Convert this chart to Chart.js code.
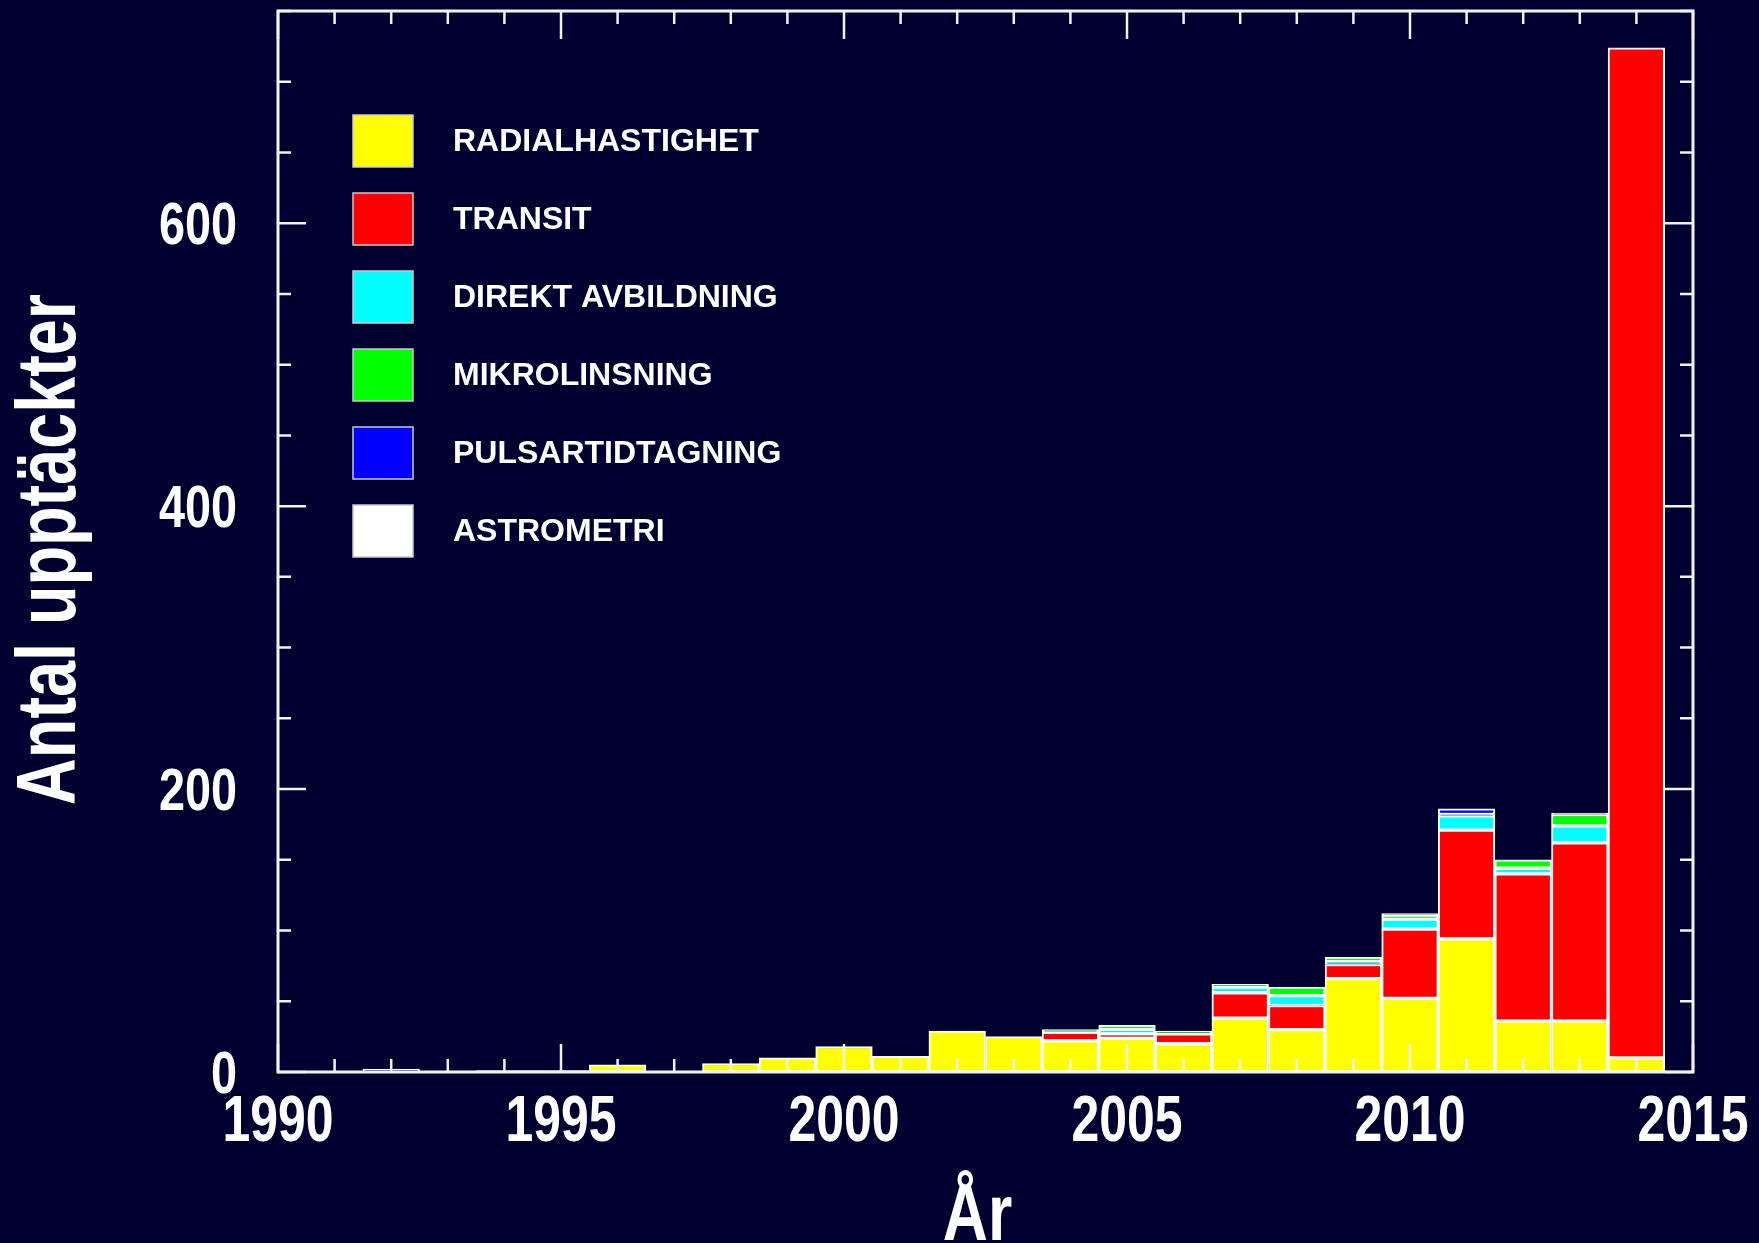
<!DOCTYPE html>
<html>
<head>
<meta charset="utf-8">
<title>Antal upptäckter per år</title>
<script src="https://cdn.jsdelivr.net/npm/chart.js@4.4.0/dist/chart.umd.min.js"></script>
<style>
  html, body { margin: 0; padding: 0; background: #000030; overflow: hidden; }
  #wrap { width: 1759px; height: 1243px; position: relative; }
</style>
</head>
<body>
<div id="wrap"><canvas id="myChart"></canvas></div>
<script>

// discoveries per year
const years      = [1991, 1992, 1993, 1994, 1995, 1996, 1997, 1998, 1999, 2000, 2001, 2002, 2003, 2004, 2005, 2006, 2007, 2008, 2009, 2010, 2011, 2012, 2013, 2014]
const radial     = [0, 0, 0, 0, 1, 5, 0, 6, 10, 18, 11, 29, 25, 22, 24, 20, 38, 30, 66, 52, 94, 36, 36, 10]
const transit    = [0, 0, 0, 0, 0, 0, 0, 0, 0, 0, 0, 0, 0, 6, 3, 7, 18, 17, 10, 49, 77, 104, 126, 714]
const imaging    = [0, 0, 0, 0, 0, 0, 0, 0, 0, 0, 0, 0, 0, 0, 3, 0, 4, 7, 2, 7, 10, 4, 12, 0]
const microlens  = [0, 0, 0, 0, 0, 0, 0, 0, 0, 0, 0, 0, 0, 2, 3, 2, 2, 6, 3, 3, 1, 6, 8, 0]
const pulsar     = [0, 2, 0, 1, 0, 0, 0, 0, 0, 0, 0, 0, 0, 0, 0, 0, 0, 0, 0, 0, 4, 0, 0, 0]
const astrometry = [0, 0, 0, 0, 0, 0, 0, 0, 0, 0, 0, 0, 0, 0, 0, 0, 0, 0, 0, 1, 0, 0, 1, 0]

const xLabelEvery = 5
const yTicksLabelled = [0, 200, 400, 600]
const xTitle = 'År'
const yTitle = 'Antal upptäckter'

// no condensed face installed, so the squeezed look is done with a horizontal scale
const squeeze = 0.78
const fontFam = '"Liberation Sans", Arial, sans-serif'

function ds(label, data, color) {
  return {
    label: label,
    data: data,
    backgroundColor: color,
    borderColor: '#ffffff',
    borderWidth: 2,
    borderSkipped: false,
    barPercentage: 1,
    categoryPercentage: 1
  }
}

function squeezedText(ctx, text, x, y, align, angle) {
  ctx.save()
  ctx.translate(x, y)
  if (angle) ctx.rotate(angle)
  ctx.scale(squeeze, 1)
  ctx.textAlign = align
  ctx.fillText(text, 0, 0)
  ctx.restore()
}

// frame + inward ticks on all four sides, drawn over the bars
const frameTicks = {
  id: 'frameTicks',
  afterDatasetsDraw(chart) {
    const ctx = chart.ctx
    const a = chart.chartArea
    const x = chart.scales.x
    const y = chart.scales.y
    ctx.save()
    ctx.strokeStyle = '#f2f2f2'
    ctx.lineWidth = 2.5
    ctx.beginPath()
    x.ticks.forEach((t) => {
      const px = x.getPixelForValue(t.value)
      const len = t.value % xLabelEvery === 0 ? 28 : 13
      ctx.moveTo(px, a.bottom)
      ctx.lineTo(px, a.bottom - len)
      ctx.moveTo(px, a.top)
      ctx.lineTo(px, a.top + len)
    })
    y.ticks.forEach((t) => {
      const py = y.getPixelForValue(t.value)
      const len = yTicksLabelled.includes(t.value) ? 28 : 13
      ctx.moveTo(a.left, py)
      ctx.lineTo(a.left + len, py)
      ctx.moveTo(a.right, py)
      ctx.lineTo(a.right - len, py)
    })
    ctx.stroke()
    ctx.lineWidth = 3
    ctx.strokeRect(a.left, a.top, a.right - a.left, a.bottom - a.top)
    ctx.restore()
  },
  afterDraw(chart) {
    // tick labels + axis titles, narrow bold
    const ctx = chart.ctx
    const a = chart.chartArea
    const x = chart.scales.x
    const y = chart.scales.y
    ctx.save()
    ctx.fillStyle = '#ffffff'
    ctx.textBaseline = 'alphabetic'
    ctx.font = 'bold 64px ' + fontFam
    x.ticks.forEach((t) => {
      if (t.value % xLabelEvery !== 0) return
      squeezedText(ctx, String(t.value), x.getPixelForValue(t.value), a.bottom + 69, 'center')
    })
    ctx.font = 'bold 60px ' + fontFam
    y.ticks.forEach((t) => {
      if (!yTicksLabelled.includes(t.value)) return
      squeezedText(ctx, String(t.value), a.left - 41, y.getPixelForValue(t.value) + 21, 'right')
    })
    ctx.font = 'bold 80px ' + fontFam
    squeezedText(ctx, xTitle, (a.left + a.right) / 2 - 8, 1240, 'center')
    ctx.font = 'bold 83px ' + fontFam
    squeezedText(ctx, yTitle, 75, (a.top + a.bottom) / 2 + 8, 'center', -Math.PI / 2)
    ctx.restore()
  }
}

// legend boxes in the upper left of the plot
const boxLegend = {
  id: 'boxLegend',
  afterDraw(chart) {
    const ctx = chart.ctx
    ctx.save()
    ctx.font = 'bold 32px ' + fontFam
    ctx.textBaseline = 'middle'
    ctx.textAlign = 'left'
    chart.data.datasets.forEach((d, i) => {
      const top = 115 + i * 78
      ctx.fillStyle = d.backgroundColor
      ctx.fillRect(353, top, 60, 52)
      ctx.strokeStyle = '#c8c8d0'
      ctx.lineWidth = 1.5
      ctx.strokeRect(353, top, 60, 52)
      ctx.fillStyle = '#ffffff'
      ctx.fillText(d.label, 453, top + 27)
    })
    ctx.restore()
  }
}

const ctx = document.getElementById('myChart')

new Chart(ctx, {
  type: 'bar',
  data: {
    labels: years,
    datasets: [
      ds('RADIALHASTIGHET', radial, '#ffff00'),
      ds('TRANSIT', transit, '#ff0000'),
      ds('DIREKT AVBILDNING', imaging, '#00ffff'),
      ds('MIKROLINSNING', microlens, '#00ff00'),
      ds('PULSARTIDTAGNING', pulsar, '#0000ff'),
      ds('ASTROMETRI', astrometry, '#ffffff')
    ]
  },
  options: {
    responsive: true,
    maintainAspectRatio: false,
    animation: false,
    layout: { padding: { left: 0, right: 66, top: 11, bottom: 0 } },
    plugins: {
      legend: { display: false },
      tooltip: { enabled: false }
    },
    scales: {
      x: {
        type: 'linear',
        stacked: true,
        offset: false,
        min: 1990,
        max: 2015,
        grid: { display: false, offset: false },
        border: { display: false },
        ticks: { display: false, stepSize: 1, autoSkip: false },
        afterFit: (s) => {
          s.height = 171
          s.paddingLeft = 0
          s.paddingRight = 0
        }
      },
      y: {
        stacked: true,
        min: 0,
        max: 750,
        grid: { display: false },
        border: { display: false },
        ticks: { display: false, stepSize: 50, autoSkip: false },
        afterFit: (s) => {
          s.width = 278
          s.paddingTop = 0
          s.paddingBottom = 0
        }
      }
    }
  },
  plugins: [frameTicks, boxLegend]
})
</script>
</body>
</html>
